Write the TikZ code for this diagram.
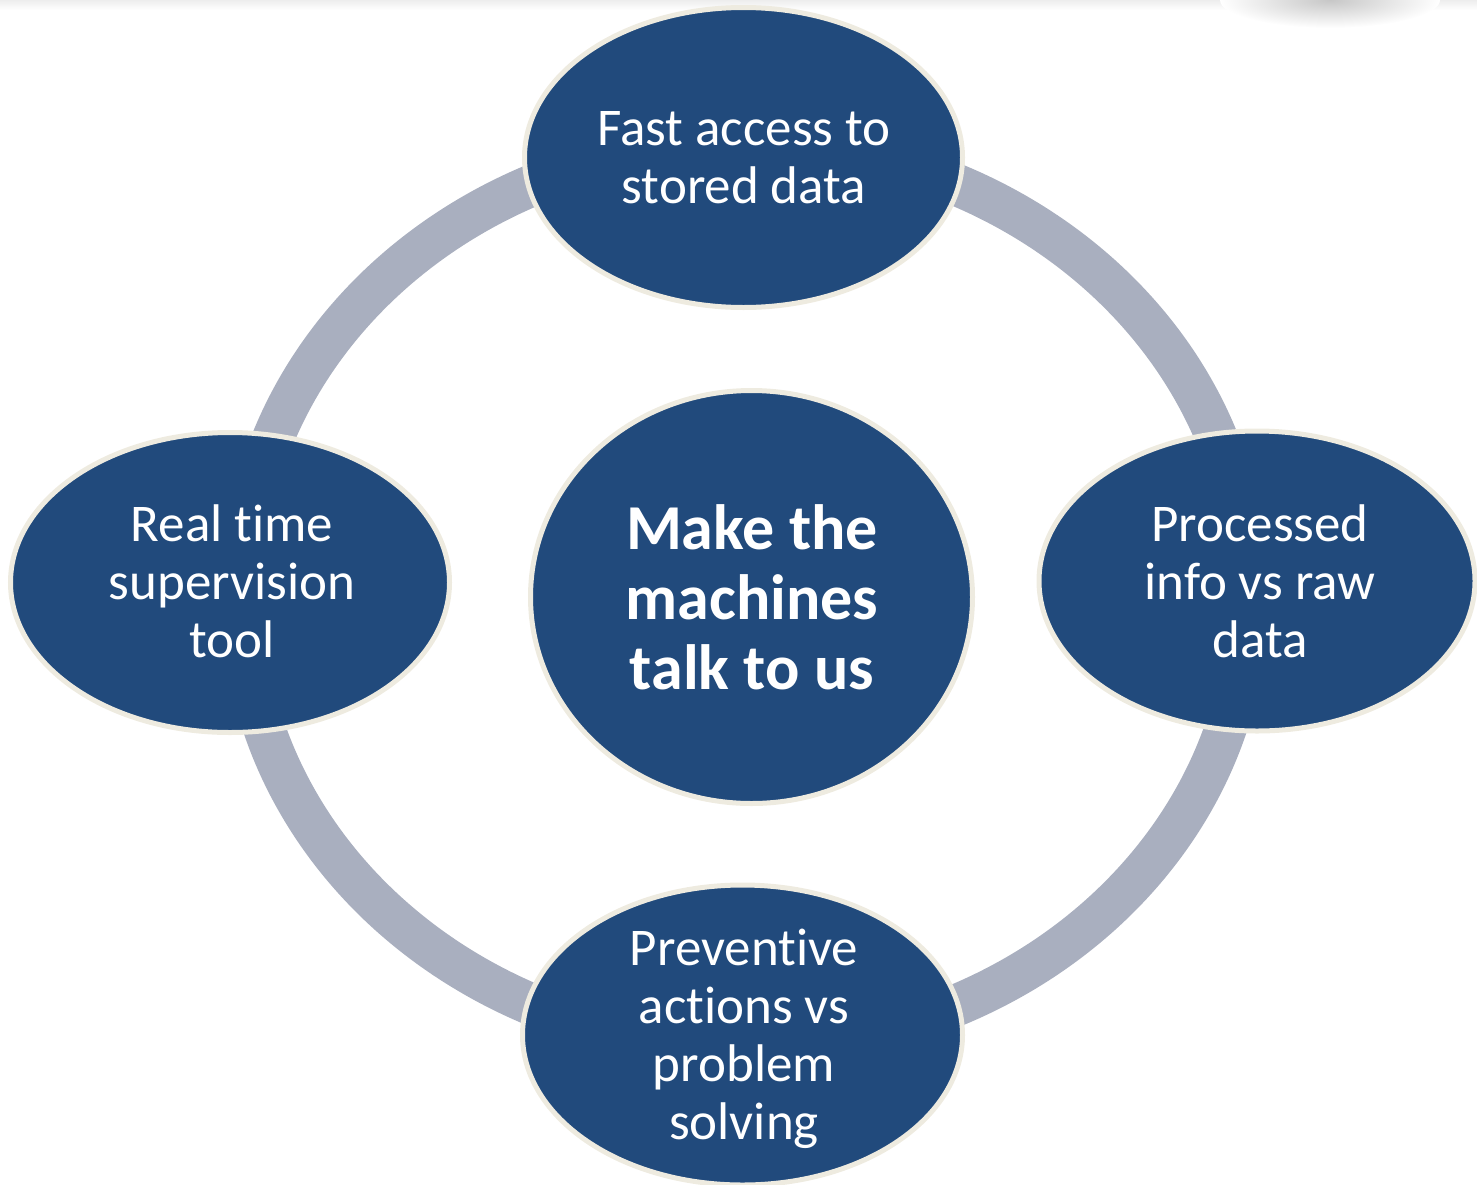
\documentclass[tikz,border=0pt]{standalone}
\usepackage{fontspec}
\setmainfont[RawFeature={-liga;-clig;-calt;-dlig}]{Carlito}
\usetikzlibrary{shapes.geometric}
\definecolor{nodeblue}{HTML}{214A7C}
\definecolor{rimcol}{HTML}{EEEBE0}
\definecolor{ringcol}{HTML}{A9AFBF}
\tikzset{
  bubble/.style={ellipse, draw=rimcol, line width=5pt, fill=nodeblue, inner sep=0pt},
  lbl/.style={text=white, align=center, font=\fontsize{53}{58}\selectfont},
  clbl/.style={text=white, align=center, font=\fontsize{64}{70}\selectfont\bfseries},
  ringline/.style={draw=ringcol, line width=42pt}
}
\begin{document}
\begin{tikzpicture}[x=1pt,y=-1pt]
\useasboundingbox (0,0) rectangle (1477,1184);
% faint top shading
\shade[top color=black!7, bottom color=white] (0,0) rectangle (1477,10);
\shade[inner color=black!22, outer color=white] (1330,0) ellipse (110 and 28);
% ring
\path[ringline] (745,595) ellipse (503 and 452);
% bubbles
\node[bubble, minimum width=438pt, minimum height=300pt] (top) at (743.5,157.5) {};
\node[bubble, minimum width=439pt, minimum height=300pt] (left) at (230,582.5) {};
\node[bubble, minimum width=436pt, minimum height=300pt] (right) at (1257,581) {};
\node[bubble, minimum width=440pt, minimum height=300pt] (bottom) at (742.5,1035) {};
\node[bubble, minimum width=442pt, minimum height=413pt] (center) at (751.5,597) {};
% texts
\node[lbl] (ttop) at (744,158) {Fast access to\\stored data};
\node[lbl] (tleft) at (232,581) {Real time\\supervision\\tool};
\node[lbl] (tright) at (1260,581) {Processed\\info vs raw\\data};
\node[lbl] (tbottom) at (744,1039) {Preventive\\actions vs\\problem\\solving};
\node[clbl] (tcenter) at (752,597) {Make the\\machines\\talk to us};
\end{tikzpicture}
\end{document}
